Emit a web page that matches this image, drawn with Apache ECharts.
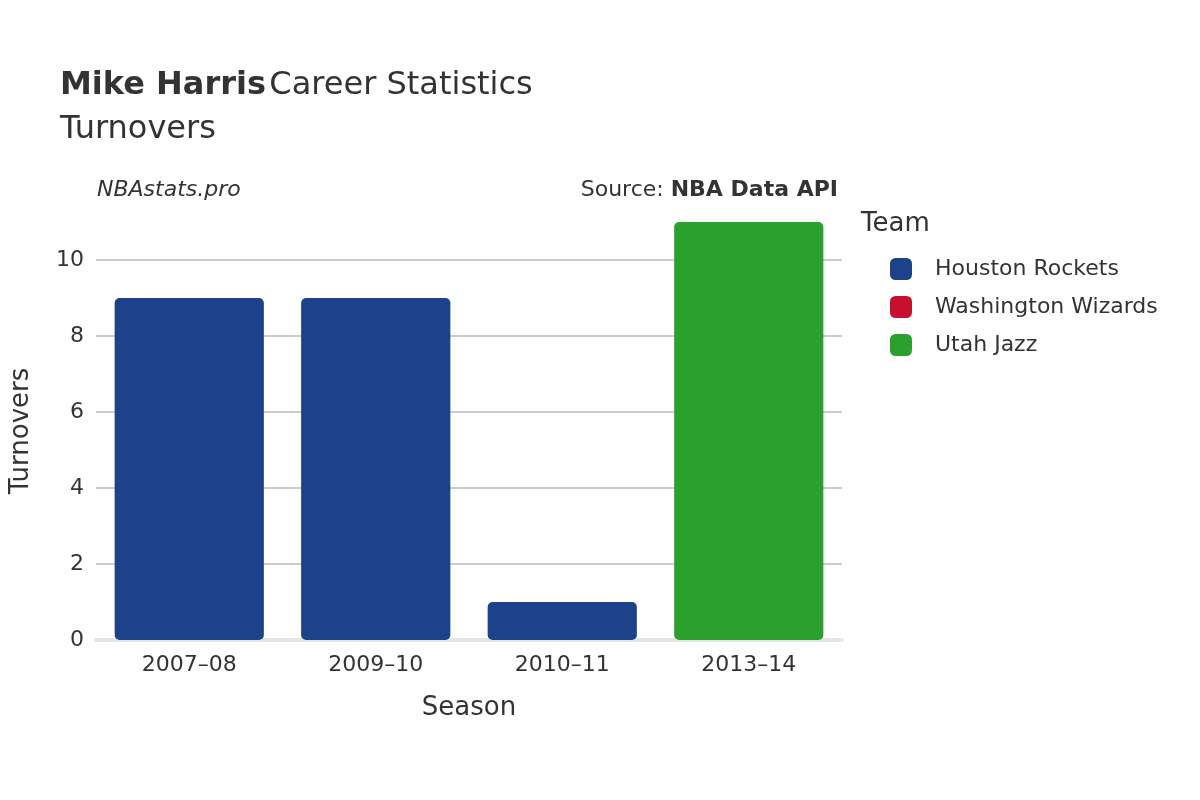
<!DOCTYPE html>
<html><head><meta charset="utf-8">
<script src="https://cdn.jsdelivr.net/npm/echarts@6/dist/echarts.min.js"></script>
<style>html,body{margin:0;padding:0;background:#fff}#c{width:1200px;height:800px}</style>
</head><body><div id="c"></div>
<script>
const seasons = ['2007–08','2009–10','2010–11','2013–14'];
const teams = ['Houston Rockets','Washington Wizards','Utah Jazz'];
const colors = ['#1d428a','#c8102e','#2ca02c'];
const houston = [9, 9, 1, null];
const washington = [null, null, null, null];
const utah = [null, null, null, 11];
const values = [houston, washington, utah];
const font = 'DejaVu Sans';
const chart = echarts.init(document.getElementById('c'));
chart.setOption({
  animation:false,
  textStyle:{fontFamily:font,color:'#333'},
  graphic:[
    {type:'text',left:60,top:70,style:{rich:{b:{fontWeight:'bold',fontSize:32,fill:'#333',fontFamily:font},n:{fontSize:32,fill:'#333',fontFamily:font}},text:'{b|Mike Harris} {n|Career Statistics}'}},
    {type:'text',left:60,top:114,style:{text:'Turnovers',fontSize:32,fill:'#333',fontFamily:font}},
    {type:'text',left:97,top:179,style:{text:'NBAstats.pro',fontSize:22,fontStyle:'italic',fill:'#333',fontFamily:font}},
    {type:'text',right:362,top:179,style:{rich:{n:{fontSize:22,fill:'#333',fontFamily:font},b:{fontSize:22,fontWeight:'bold',fill:'#333',fontFamily:font}},text:'{n|Source: }{b|NBA Data API}'}},
    {type:'text',left:861,top:211,style:{text:'Team',fontSize:26,fill:'#333',fontFamily:font}}
  ],
  legend:{orient:'vertical',left:885,top:253,itemWidth:22,itemHeight:22,itemGap:16,icon:'roundRect',
    textStyle:{fontSize:22,color:'#333',padding:[0,0,0,18]},data:teams},
  grid:{left:93,right:358,top:222,bottom:160},
  xAxis:{type:'category',data:seasons,name:'Season',nameLocation:'middle',nameGap:55,
    nameTextStyle:{fontSize:26,color:'#333'},
    axisLine:{lineStyle:{color:'#e5e5e5',width:4}},axisTick:{show:false},
    axisLabel:{fontSize:22,color:'#333',margin:14}},
  yAxis:{type:'value',min:0,max:11,interval:2,name:'Turnovers',nameLocation:'middle',nameGap:62,
    nameTextStyle:{fontSize:26,color:'#333'},
    axisLabel:{fontSize:22,color:'#333',showMaxLabel:false,margin:12},
    splitLine:{showMaxLine:false,lineStyle:{color:'#bbb',width:1.5}}},
  series: teams.map((t,i)=>({name:t,type:'bar',stack:'a',barWidth:'80%',data:values[i],
    itemStyle:{color:colors[i],borderRadius:5}}))
});
</script></body></html>
